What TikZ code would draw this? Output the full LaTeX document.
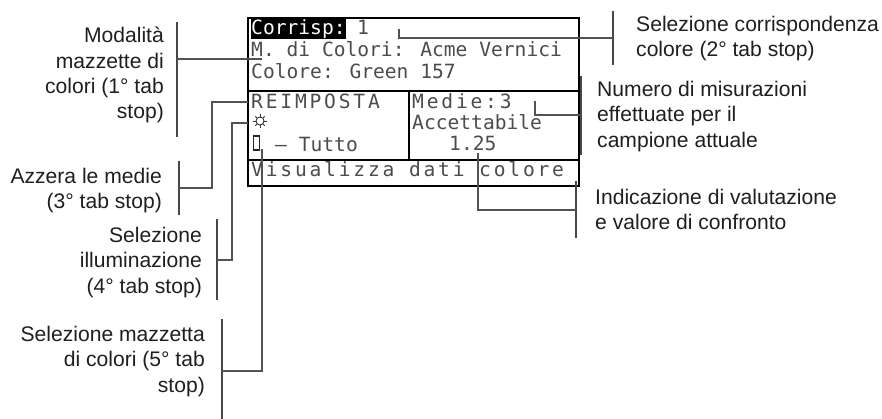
\documentclass[tikz,border=0pt]{standalone}
\usepackage{fontspec}
\setmainfont{Liberation Sans}
\newfontfamily\lcdfont{DejaVu Sans Mono}
\newfontfamily\lcdwide{DejaVu Sans Mono}[LetterSpace=14.3]
\begin{document}
\begin{tikzpicture}[x=1pt,y=-1pt,
  lab/.style={inner sep=0pt,align=right,font=\fontsize{21.1}{25.3}\selectfont,text=black!88},
  labl/.style={lab,align=left},
  lcd/.style={inner sep=0pt,anchor=base west,font=\fontsize{19.6}{20}\lcdfont,text=black!70},
  lcdw/.style={inner sep=0pt,anchor=base west,font=\fontsize{19.6}{20}\lcdwide,text=black!70},
  frame/.style={draw=black,line width=1.8pt},
  brk/.style={draw=black!72,line width=1.6pt},
  con/.style={draw=black!68,line width=1.2pt}]
\useasboundingbox[fill=white] (0,0) rectangle (882,419);
% display
\fill[black] (251,19) rectangle (346,39);
\draw[frame] (248,18) rectangle (579,186);
\draw[frame] (248,91) -- (579,91);
\draw[frame] (248,160) -- (579,160);
\draw[frame] (409,91) -- (409,160);
\node[lcd,text=white] (corr) at (251,35) {Corrisp:};
\node[lcd] (one) at (357,35) {1};
\node[lcd] (mdi) at (251,57) {M. di Colori: Acme Vernici};
\node[lcd] (colg) at (251,79) {Colore: Green 157};
\node[lcdw] (reim) at (251,109) {REIMPOSTA};
\node[lcdw] (medie) at (412,109) {Medie:3};
\node[lcd] (acc) at (412,130) {Accettabile};
\node[lcd] (val) at (449,151) {1.25};
\node[lcd] (tutto) at (275,152) {– Tutto};
\node[lcdw] (vis) at (251,177) {Visualizza dati colore};
% icons
\node[draw=black!80,line width=.9pt,circle,minimum size=8pt,inner sep=0pt] (sun) at (260,121) {};
\foreach \a in {0,45,...,315}\draw[black!80,line width=.9pt] (sun.\a) -- ++(\a:2.2pt);
\node[draw=black!85,line width=1.3pt,minimum width=6pt,minimum height=14pt,inner sep=0pt] (rectk) at (256.5,143) {};
% labels
\node[lab,anchor=north east] (l1) at (164,27) {Modalità\\mazzette di\\colori (1° tab\\stop)};
\node[lab,anchor=north east] (l3) at (162,168) {Azzera le medie\\(3° tab stop)};
\node[lab,anchor=north east] (l4) at (202,227) {Selezione\\illuminazione\\(4° tab stop)};
\node[lab,anchor=north east] (l5) at (205,326) {Selezione mazzetta\\di colori (5° tab\\stop)};
\node[labl,anchor=north west] (l2) at (636,16) {Selezione corrispondenza\\colore (2° tab stop)};
\node[labl,anchor=north west] (ln) at (597,81) {Numero di misurazioni\\effettuate per il\\campione attuale};
\node[labl,anchor=north west] (li) at (595,189) {Indicazione di valutazione\\e valore di confronto};
% brackets
\coordinate (b1t) at (177,22); \coordinate (b1b) at (177,137); \coordinate (b1m) at (177,59);
\coordinate (b3t) at (179,161); \coordinate (b3b) at (179,215); \coordinate (b3m) at (179,188);
\coordinate (b4t) at (217,219); \coordinate (b4b) at (217,300); \coordinate (b4m) at (217,260);
\coordinate (b5t) at (222,319); \coordinate (b5b) at (222,419); \coordinate (b5m) at (222,371);
\coordinate (b2t) at (613,11); \coordinate (b2b) at (613,65); \coordinate (b2m) at (613,38);
\coordinate (bnt) at (581,76); \coordinate (bnb) at (581,155); \coordinate (bnm) at (581,115);
\coordinate (bit) at (576,181); \coordinate (bib) at (576,238); \coordinate (bim) at (576,210);
\foreach \n in {1,3,4,5,2,n,i}\draw[brk] (b\n t) -- (b\n b);
% targets
\coordinate (t1) at (262,59);
\coordinate (t3) at (248,102);
\coordinate (t4) at (248,123);
\coordinate (t5) at (262,149);
\coordinate (t2) at (399,29);
\coordinate (tn) at (535,101);
\coordinate (ti) at (478,153);
\draw[con] (b1m) -- (t1);
\draw[con] (b3m) -| (212,102) -- (t3);
\draw[con] (b4m) -| (232,123) -- (t4);
\draw[con] (b5m) -| (t5);
\draw[con] (b2m) -| (t2);
\draw[con] (bnm) -| (tn);
\draw[con] (bim) -| (ti);
\end{tikzpicture}
\end{document}
